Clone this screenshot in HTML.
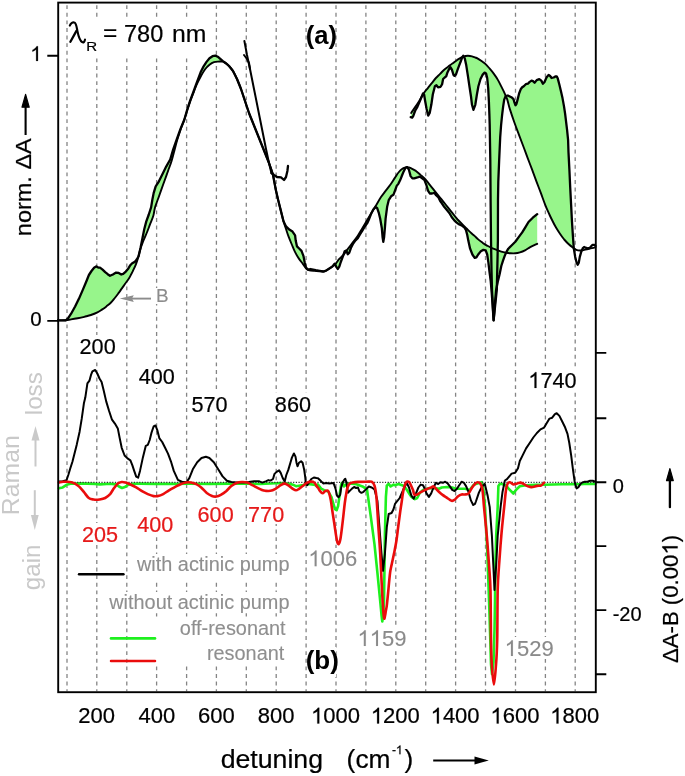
<!DOCTYPE html><html><head><meta charset="utf-8"><style>html,body{margin:0;padding:0;background:#fff;}svg{display:block;will-change:transform;filter:blur(0.35px);}text{font-family:"Liberation Sans",sans-serif;}</style></head><body>
<svg width="685" height="776" viewBox="0 0 685 776">
<rect width="685" height="776" fill="#fff"/>
<path d="M67 5.2 V691.2 M96.8 5.2 V691.2 M126.8 5.2 V691.2 M156.6 5.2 V691.2 M186.6 5.2 V691.2 M216.4 5.2 V691.2 M246.3 5.2 V691.2 M276.2 5.2 V691.2 M306.1 5.2 V691.2 M336 5.2 V691.2 M365.9 5.2 V691.2 M395.8 5.2 V691.2 M425.7 5.2 V691.2 M455.6 5.2 V691.2 M485.5 5.2 V691.2 M515.5 5.2 V691.2 M545.4 5.2 V691.2 M575.2 5.2 V691.2" stroke="#858585" stroke-width="1.3" stroke-dasharray="3.9 3.7" fill="none"/>
<rect x="68" y="20" width="139" height="36" fill="#fff"/>
<rect x="308" y="23" width="27" height="30" fill="#fff"/>
<rect x="77" y="335" width="42" height="26" fill="#fff"/>
<rect x="136" y="365" width="42" height="23" fill="#fff"/>
<rect x="189" y="392" width="42" height="23" fill="#fff"/>
<rect x="272" y="393" width="42" height="23" fill="#fff"/>
<rect x="527" y="370" width="52" height="21" fill="#fff"/>
<rect x="80" y="523" width="40" height="22" fill="#fff"/>
<rect x="135" y="514" width="41" height="22" fill="#fff"/>
<rect x="196" y="503" width="41" height="22" fill="#fff"/>
<rect x="249" y="502" width="38" height="22" fill="#fff"/>
<rect x="307" y="548" width="52" height="21" fill="#fff"/>
<rect x="134" y="554" width="159" height="25" fill="#fff"/>
<rect x="106" y="592" width="186" height="20" fill="#fff"/>
<rect x="150" y="616.5" width="143" height="49" fill="#fff"/>
<rect x="308" y="647" width="28" height="30" fill="#fff"/>
<rect x="355" y="628" width="53" height="21" fill="#fff"/>
<rect x="503" y="637" width="53" height="22" fill="#fff"/>
<rect x="152" y="288" width="19" height="16" fill="#fff"/>
<path d="M58 320.4 L65.9 320.3 L68.5 317.7 L71.1 313.7 L75.1 306.5 L79 298.6 L83 289.4 L86.3 281.5 L88.9 275 L91.5 271 L94.1 267.7 L96.1 266.4 L98.7 267.7 L100 267.7 L102.6 269.7 L105.2 272.2 L107.7 274.2 L110 275.8 L112.9 274.5 L116.1 272.6 L118.7 272.9 L121.3 274.5 L123.2 273.9 L125.8 271.6 L128.4 268.4 L130.3 265.2 L132.2 263.2 L134.8 261.9 L136.7 259.6 L138.5 256.5 L140.5 248 L142.4 238.5 L144.3 229 L146.3 221.4 L148.8 214.5 L151.1 207.4 L152.4 199.5 L153.7 192.9 L155.7 186.3 L158.3 182.4 L160.3 178.4 L162.9 173.2 L166.2 166.6 L170.2 159.5 L173.2 149.4 L176.9 139 L180.6 128.6 L184.3 119.7 L187.3 109.3 L190.2 100.4 L193.2 92.5 L196.2 84.1 L200.6 72.3 L203.6 66.3 L206.5 61.9 L209.5 58.2 L212.5 56.2 L215.4 55.6 L217.7 56.7 L220.6 59.2 L222.9 61.1 L225.8 63.2 L229 66 L233 71 L237 79 L241 89 L245 101 L249 113 L253 123 L257 133 L261 143 L265 153 L269 163 L273 175 L275.9 190.3 L278.3 200.6 L280.9 210.9 L283.5 221.3 L286 226.4 L289.3 229.6 L292.5 231.6 L295.1 235.4 L295.7 240.6 L297 246.4 L298.9 248.3 L301.5 250.9 L303.5 256.1 L304.7 262.5 L306 267.7 L308 269.6 L310.5 269 L313.1 269.6 L315.7 270.2 L319.6 270.9 L323.4 271.5 L325.4 270.9 L328.6 269 L332.5 266.4 L334.6 263.6 L336.2 266.6 L337.7 269 L339.3 266.6 L340.8 262 L343.1 255.8 L344.7 251.2 L346.2 250.4 L347.8 254.3 L349.3 252.7 L350.9 248.1 L353.2 243.5 L355.5 240.4 L357.8 238.1 L360.1 234.2 L362.5 230.3 L364.8 226.5 L367.1 223.4 L368.6 220.3 L371 214.1 L373.3 209.5 L375.6 207.1 L377.1 207.9 L378.7 212.6 L380.2 218.7 L381.8 228 L382.6 237.3 L383.3 241.9 L384.1 237.3 L384.9 228 L385.6 218.7 L387.2 206.4 L388.7 200.2 L391.1 196.3 L393.4 194.8 L394.9 190.9 L396.7 185.9 L398.5 183.6 L400.2 180.1 L402 175.5 L403.7 171.4 L405.4 168 L407.2 167.1 L408.9 169.7 L410.6 176.1 L412.4 178.4 L414.1 178.4 L415.9 177.8 L418.2 177.2 L419.9 176.7 L422.2 178.4 L424.5 180.1 L426.3 184.8 L428 190.6 L429.8 193.5 L432.1 193.5 L434.4 192.9 L436.1 195.2 L438.5 197.5 L440.2 201 L441.9 203.3 L444.2 206.8 L447.1 210.3 L449.5 213.2 L451.8 217.2 L454.1 220.1 L456.4 222.4 L458.7 224.2 L461.6 225.3 L464.5 227.6 L466 230.1 L467.2 234.8 L468.3 240.6 L470.1 248.7 L472.4 254.5 L474.7 257.9 L476.4 257.4 L478.2 254.5 L480.5 251.6 L483.4 249.8 L485.7 250.4 L487.2 254.5 L488.4 262.6 L489.5 271.8 L490.7 281.1 L491.5 289.9 L492.6 305 L493.6 320.3 L494.8 305 L496.1 289.9 L497.9 281.1 L499.6 274.2 L501.3 266 L503.1 260.3 L504.8 255.6 L506.6 251.6 L508.3 248.7 L511.8 245.2 L515.3 241.7 L518.7 237.1 L522.2 232.4 L525 227.8 L528.5 222 L532.8 217.7 L537.2 214.2 L537.2 243.8 L530.2 247.2 L525 250.3 L519.9 252.4 L515.3 253.3 L510.6 253.3 L506 252.7 L501.3 251.6 L496.7 249.8 L492.1 248.1 L487.4 245.8 L482.8 242.9 L478.2 239.4 L474.5 235.9 L470.5 232.4 L466.5 228.4 L462.2 224.2 L457.6 219.5 L452.9 213.7 L448.3 207.9 L443.7 202.1 L439 196.3 L434.4 190.6 L429.8 184.8 L425.1 179 L420.5 174.9 L415.9 170.9 L411.2 168.3 L407.7 167.1 L405.4 167.4 L402 169.1 L398.5 172.5 L395 177.6 L390.3 184.7 L385.6 190.9 L381 197.1 L376.4 204.8 L371.7 212.6 L367.1 220.3 L362.5 228 L357.8 235.7 L353.2 241.9 L348.5 248.1 L343.9 254.3 L339.3 258.9 L335.7 263.8 L332.5 266.4 L328.6 269 L324.7 271.3 L319.6 271.3 L314.4 270.9 L309.3 270.2 L306.7 269 L302.8 263.8 L298.9 258.6 L295.1 252.2 L291.8 244.5 L288.6 236.7 L286 229 L283.5 221.3 L280.9 210.9 L278.3 200.6 L275.9 190.3 L273 175 L269 163 L265 153 L261 143 L257 133 L253 123 L249 113 L245 101 L241 89 L237 79 L233 71 L229 66 L225.8 63.2 L222.9 61.6 L218.4 61.6 L214 62.2 L209.5 64.8 L205.1 69.3 L200.6 76.7 L196.2 85.6 L193.2 93.5 L190.2 101.4 L187.3 110.3 L184.3 119.7 L180.6 129.5 L176.9 141 L174.3 151 L171.5 161.3 L168.2 170.5 L164.9 179.7 L161.6 188.9 L158.3 198.2 L155 207.4 L153.4 215.5 L150.1 224.2 L146.9 232.5 L143.5 240.5 L140.7 248 L138.3 257 L136.1 263.9 L133.5 269.7 L130.9 274.8 L128.4 279.3 L125.1 283.8 L121.9 288.4 L118.7 292.9 L114.8 298 L111 302.5 L106.4 306.4 L101.9 309.6 L97.4 312.4 L90.9 315 L84.3 316.8 L77.7 318.3 L71.1 319.4 L65.9 320.3 L58 320.4 Z" fill="#97f58b" fill-rule="nonzero" stroke="none"/>
<path d="M410.7 117.2 L412.2 117.7 L413.2 116.1 L414.3 113 L415.3 110.5 L417.4 106.9 L420.5 99.6 L423 93.5 L424.1 94.5 L425.1 100.7 L426.6 108.9 L428.2 115.6 L429.7 113 L431.3 104.8 L432.8 94.5 L434.9 86.2 L436.4 85.2 L438 87.3 L440.6 86.8 L442.1 84.2 L443.1 79 L444.7 77.5 L446.2 76.4 L447.3 72.8 L448.8 69.7 L450.4 67.2 L451.9 69.7 L453.5 74.9 L454.5 75.9 L456 74.4 L457.6 69.7 L459.1 65.6 L460.7 61.5 L462.2 57.4 L463.2 55.8 L464.8 58.4 L466.3 65.6 L467.9 75.9 L469.4 86.2 L471 96.5 L472 104.8 L473.4 109.8 L475.3 104.8 L476.9 94.5 L478.4 86.2 L480.5 79 L482.5 74.9 L484.6 72.6 L486.1 73.4 L487.2 78 L488.2 88.3 L488.9 101.7 L489.4 115.1 L489.7 125 L490.3 160 L490.6 200 L491 240 L491.5 270 L492 290 L493.6 320.3 L496.8 290 L497.5 260 L497.9 240 L498 200 L498.3 181.6 L499.2 159.3 L500.2 137.1 L501.1 125 L502.1 115.1 L503.1 106.9 L504.2 99.6 L505.7 96 L507.8 95.5 L509.8 96.5 L511.9 97.6 L513.5 99.1 L514.5 102.7 L515.5 105.3 L516.5 103.8 L517.6 99.6 L519.1 93.5 L520.7 89.3 L522.2 87.3 L523.8 86.2 L525.8 84.2 L527.9 83.7 L529.4 82.1 L531.5 80.6 L533 81.1 L534.6 82.7 L536.7 80.1 L539.3 79.1 L541.3 80.6 L542.9 83.7 L544.4 82.2 L546.5 77.5 L548.6 74.9 L550.1 76 L551.6 78 L553.7 77.5 L555.3 76.5 L556.8 76.5 L557.8 78.6 L559.4 84.7 L560.9 90.9 L562.5 98.1 L564 106.4 L565.1 113.6 L566.1 121.9 L567.1 130.1 L568.1 140 L568.5 152.4 L569.4 169.8 L570.2 187.2 L571.1 204.6 L572 222 L572.9 235.9 L573.8 248.4 L574.3 248.3 L574.3 248.3 L573.4 248 L568.5 244 L564.2 239.5 L559.8 233.5 L556.3 228 L552.8 221.5 L549.4 214.5 L545.4 205.3 L541 193.4 L536.5 181.6 L532.1 169.7 L527.6 157.8 L523.2 146 L518.7 134.1 L514.3 122.2 L509.8 108.9 L507.3 99.6 L504.2 92.4 L501.1 86.2 L498 80.1 L493.9 73.9 L489.7 68.7 L485.6 64.1 L481.5 61 L477.4 58.4 L475 57.4 L472 56.3 L467.9 55.8 L463.8 56.3 L460.7 57.9 L456.5 60.5 L452.4 63.6 L448.3 66.6 L444.2 69.7 L440.1 73.9 L435.9 78 L431.8 83.1 L427.7 88.3 L423.6 93.5 L419.4 100.7 L415.3 106.9 L411.2 113 Z" fill="#97f58b" fill-rule="nonzero" stroke="none"/>
<path d="M58 320.4 C59.3 320.4 63.7 320.5 65.9 320.3 C68.1 320.1 69.1 319.7 71.1 319.4 C73.1 319.1 75.5 318.7 77.7 318.3 C79.9 317.9 82.1 317.4 84.3 316.8 C86.5 316.2 88.7 315.7 90.9 315 C93.1 314.3 95.6 313.3 97.4 312.4 C99.2 311.5 100.4 310.6 101.9 309.6 C103.4 308.6 104.9 307.6 106.4 306.4 C107.9 305.2 109.6 303.9 111 302.5 C112.4 301.1 113.5 299.6 114.8 298 C116.1 296.4 117.5 294.5 118.7 292.9 C119.9 291.3 120.8 289.9 121.9 288.4 C123 286.9 124 285.3 125.1 283.8 C126.2 282.3 127.4 280.8 128.4 279.3 C129.4 277.8 130.1 276.4 130.9 274.8 C131.8 273.2 132.6 271.5 133.5 269.7 C134.4 267.9 135.3 266 136.1 263.9 C136.9 261.8 137.5 259.6 138.3 257 C139.1 254.3 139.8 250.8 140.7 248 C141.6 245.2 142.5 243.1 143.5 240.5 C144.5 237.9 145.8 235.2 146.9 232.5 C148 229.8 149 227 150.1 224.2 C151.2 221.4 152.6 218.3 153.4 215.5 C154.2 212.7 154.2 210.3 155 207.4 C155.8 204.5 157.2 201.3 158.3 198.2 C159.4 195.1 160.5 192 161.6 188.9 C162.7 185.8 163.8 182.8 164.9 179.7 C166 176.6 167.1 173.6 168.2 170.5 C169.3 167.4 170.5 164.6 171.5 161.3 C172.5 158.1 173.4 154.4 174.3 151 C175.2 147.6 175.9 144.6 176.9 141 C177.9 137.4 179.4 133.1 180.6 129.5 C181.8 126 183.2 122.9 184.3 119.7 C185.4 116.5 186.3 113.3 187.3 110.3 C188.3 107.2 189.2 104.2 190.2 101.4 C191.2 98.6 192.2 96.1 193.2 93.5 C194.2 90.9 195 88.4 196.2 85.6 C197.4 82.8 199.1 79.4 200.6 76.7 C202.1 74 203.6 71.3 205.1 69.3 C206.6 67.3 208 66 209.5 64.8 C211 63.6 212.5 62.7 214 62.2 C215.5 61.7 216.9 61.7 218.4 61.6 C219.9 61.5 221.7 61.3 222.9 61.6 C224.1 61.9 224.8 62.5 225.8 63.2 C226.8 63.9 227.8 64.7 229 66 C230.2 67.3 231.7 68.8 233 71 C234.3 73.2 235.7 76 237 79 C238.3 82 239.7 85.3 241 89 C242.3 92.7 243.7 97 245 101 C246.3 105 247.7 109.3 249 113 C250.3 116.7 251.7 119.7 253 123 C254.3 126.3 255.7 129.7 257 133 C258.3 136.3 259.7 139.7 261 143 C262.3 146.3 263.7 149.7 265 153 C266.3 156.3 267.7 159.3 269 163 C270.3 166.7 271.9 170.4 273 175 C274.1 179.6 275 186 275.9 190.3 C276.8 194.6 277.5 197.2 278.3 200.6 C279.1 204 280 207.4 280.9 210.9 C281.8 214.4 282.6 218.3 283.5 221.3 C284.4 224.3 285.1 226.4 286 229 C286.9 231.6 287.6 234.1 288.6 236.7 C289.6 239.3 290.7 241.9 291.8 244.5 C292.9 247.1 293.9 249.8 295.1 252.2 C296.3 254.5 297.6 256.7 298.9 258.6 C300.2 260.5 301.5 262.1 302.8 263.8 C304.1 265.5 305.6 267.9 306.7 269 C307.8 270.1 308 269.9 309.3 270.2 C310.6 270.5 312.7 270.7 314.4 270.9 C316.1 271.1 317.9 271.2 319.6 271.3 C321.3 271.4 323.2 271.7 324.7 271.3 C326.2 270.9 327.3 269.8 328.6 269 C329.9 268.2 331.3 267.3 332.5 266.4 C333.7 265.5 334.6 265.1 335.7 263.8 C336.8 262.6 337.9 260.5 339.3 258.9 C340.7 257.3 342.4 256.1 343.9 254.3 C345.4 252.5 346.9 250.2 348.5 248.1 C350.1 246 351.6 244 353.2 241.9 C354.8 239.8 356.2 238 357.8 235.7 C359.4 233.4 360.9 230.6 362.5 228 C364.1 225.4 365.6 222.9 367.1 220.3 C368.6 217.7 370.1 215.2 371.7 212.6 C373.2 210 374.8 207.4 376.4 204.8 C377.9 202.2 379.5 199.4 381 197.1 C382.5 194.8 384.1 193 385.6 190.9 C387.2 188.8 388.7 186.9 390.3 184.7 C391.9 182.5 393.6 179.6 395 177.6 C396.4 175.6 397.3 173.9 398.5 172.5 C399.7 171.1 400.9 169.9 402 169.1 C403.1 168.2 404.4 167.7 405.4 167.4 C406.3 167.1 406.7 166.9 407.7 167.1 C408.7 167.2 409.8 167.7 411.2 168.3 C412.6 168.9 414.3 169.8 415.9 170.9 C417.4 172 419 173.6 420.5 174.9 C422 176.2 423.6 177.3 425.1 179 C426.7 180.7 428.2 182.9 429.8 184.8 C431.4 186.7 432.9 188.7 434.4 190.6 C435.9 192.5 437.4 194.4 439 196.3 C440.6 198.2 442.1 200.2 443.7 202.1 C445.2 204 446.8 206 448.3 207.9 C449.8 209.8 451.3 211.8 452.9 213.7 C454.4 215.6 456.1 217.8 457.6 219.5 C459.2 221.2 460.7 222.7 462.2 224.2 C463.7 225.7 465.1 227 466.5 228.4 C467.9 229.8 469.2 231.2 470.5 232.4 C471.8 233.7 473.2 234.7 474.5 235.9 C475.8 237.1 476.8 238.2 478.2 239.4 C479.6 240.6 481.3 241.8 482.8 242.9 C484.3 244 485.8 244.9 487.4 245.8 C488.9 246.7 490.6 247.4 492.1 248.1 C493.7 248.8 495.2 249.2 496.7 249.8 C498.2 250.4 499.8 251.1 501.3 251.6 C502.9 252.1 504.4 252.4 506 252.7 C507.6 253 509.1 253.2 510.6 253.3 C512.1 253.4 513.8 253.5 515.3 253.3 C516.8 253.2 518.3 252.9 519.9 252.4 C521.5 251.9 523.3 251.2 525 250.3 C526.7 249.4 528.2 248.3 530.2 247.2 C532.2 246.1 536 244.4 537.2 243.8" fill="none" stroke="#000" stroke-linejoin="round" stroke-linecap="round" stroke-width="1.9"/>
<path d="M411.2 113 C411.9 112 413.9 109 415.3 106.9 C416.7 104.9 418 102.9 419.4 100.7 C420.8 98.5 422.2 95.6 423.6 93.5 C425 91.4 426.3 90 427.7 88.3 C429.1 86.6 430.4 84.8 431.8 83.1 C433.2 81.4 434.5 79.5 435.9 78 C437.3 76.5 438.7 75.3 440.1 73.9 C441.5 72.5 442.8 70.9 444.2 69.7 C445.6 68.5 446.9 67.6 448.3 66.6 C449.7 65.6 451 64.6 452.4 63.6 C453.8 62.6 455.1 61.5 456.5 60.5 C457.9 59.5 459.5 58.6 460.7 57.9 C461.9 57.2 462.6 56.6 463.8 56.3 C465 55.9 466.5 55.8 467.9 55.8 C469.3 55.8 470.8 56 472 56.3 C473.2 56.6 474.1 57 475 57.4 C475.9 57.8 476.3 57.8 477.4 58.4 C478.5 59 480.1 60 481.5 61 C482.9 62 484.2 62.8 485.6 64.1 C487 65.4 488.3 67.1 489.7 68.7 C491.1 70.3 492.5 72 493.9 73.9 C495.3 75.8 496.8 78 498 80.1 C499.2 82.1 500.1 84.2 501.1 86.2 C502.1 88.2 503.2 90.2 504.2 92.4 C505.2 94.6 506.4 96.8 507.3 99.6 C508.2 102.3 508.6 105.1 509.8 108.9 C511 112.7 512.8 118 514.3 122.2 C515.8 126.4 517.2 130.1 518.7 134.1 C520.2 138.1 521.7 142.1 523.2 146 C524.7 149.9 526.1 153.9 527.6 157.8 C529.1 161.8 530.6 165.7 532.1 169.7 C533.6 173.7 535 177.6 536.5 181.6 C538 185.6 539.5 189.4 541 193.4 C542.5 197.4 544 201.8 545.4 205.3 C546.8 208.8 548.2 211.8 549.4 214.5 C550.6 217.2 551.6 219.2 552.8 221.5 C553.9 223.8 555.1 226 556.3 228 C557.5 230 558.5 231.6 559.8 233.5 C561.1 235.4 562.8 237.8 564.2 239.5 C565.7 241.2 567 242.6 568.5 244 C570 245.4 572.1 247 573.4 248 C574.7 249 575.2 249.4 576.3 249.8 C577.4 250.2 578.6 250.4 579.8 250.5 C581 250.6 582.2 250.3 583.4 250.1 C584.6 249.9 585.7 249.7 586.9 249.4 C588.1 249.1 589.1 248.8 590.5 248.4 C591.9 248.1 594.6 247.5 595.4 247.3" fill="none" stroke="#000" stroke-linejoin="round" stroke-linecap="round" stroke-width="1.9"/>
<path d="M58 320.4 L65.9 320.3 L68.5 317.7 L71.1 313.7 L75.1 306.5 L79 298.6 L83 289.4 L86.3 281.5 L88.9 275 L91.5 271 L94.1 267.7 L96.1 266.4 L98.7 267.7 L100 267.7 L102.6 269.7 L105.2 272.2 L107.7 274.2 L110 275.8 L112.9 274.5 L116.1 272.6 L118.7 272.9 L121.3 274.5 L123.2 273.9 L125.8 271.6 L128.4 268.4 L130.3 265.2 L132.2 263.2 L134.8 261.9 L136.7 259.6 L138.5 256.5 L140.5 248 L142.4 238.5 L144.3 229 L146.3 221.4 L148.8 214.5 L151.1 207.4 L152.4 199.5 L153.7 192.9 L155.7 186.3 L158.3 182.4 L160.3 178.4 L162.9 173.2 L166.2 166.6 L170.2 159.5 L173.2 149.4 L176.9 139 L180.6 128.6 L184.3 119.7 L187.3 109.3 L190.2 100.4 L193.2 92.5 L196.2 84.1 L200.6 72.3 L203.6 66.3 L206.5 61.9 L209.5 58.2 L212.5 56.2 L215.4 55.6 L217.7 56.7 L220.6 59.2 L222.9 61.1 L225.8 63.2 L229 66 L233 71 L237 79 L241 89 L245 101 L249 113 L253 123 L257 133 L261 143 L265 153 L269 163 L273 175 L275.9 190.3 L278.3 200.6 L280.9 210.9 L283.5 221.3 L286 226.4 L289.3 229.6 L292.5 231.6 L295.1 235.4 L295.7 240.6 L297 246.4 L298.9 248.3 L301.5 250.9 L303.5 256.1 L304.7 262.5 L306 267.7 L308 269.6 L310.5 269 L313.1 269.6 L315.7 270.2 L319.6 270.9 L323.4 271.5 L325.4 270.9 L328.6 269 L332.5 266.4 L334.6 263.6 L336.2 266.6 L337.7 269 L339.3 266.6 L340.8 262 L343.1 255.8 L344.7 251.2 L346.2 250.4 L347.8 254.3 L349.3 252.7 L350.9 248.1 L353.2 243.5 L355.5 240.4 L357.8 238.1 L360.1 234.2 L362.5 230.3 L364.8 226.5 L367.1 223.4 L368.6 220.3 L371 214.1 L373.3 209.5 L375.6 207.1 L377.1 207.9 L378.7 212.6 L380.2 218.7 L381.8 228 L382.6 237.3 L383.3 241.9 L384.1 237.3 L384.9 228 L385.6 218.7 L387.2 206.4 L388.7 200.2 L391.1 196.3 L393.4 194.8 L394.9 190.9 L396.7 185.9 L398.5 183.6 L400.2 180.1 L402 175.5 L403.7 171.4 L405.4 168 L407.2 167.1 L408.9 169.7 L410.6 176.1 L412.4 178.4 L414.1 178.4 L415.9 177.8 L418.2 177.2 L419.9 176.7 L422.2 178.4 L424.5 180.1 L426.3 184.8 L428 190.6 L429.8 193.5 L432.1 193.5 L434.4 192.9 L436.1 195.2 L438.5 197.5 L440.2 201 L441.9 203.3 L444.2 206.8 L447.1 210.3 L449.5 213.2 L451.8 217.2 L454.1 220.1 L456.4 222.4 L458.7 224.2 L461.6 225.3 L464.5 227.6 L466 230.1 L467.2 234.8 L468.3 240.6 L470.1 248.7 L472.4 254.5 L474.7 257.9 L476.4 257.4 L478.2 254.5 L480.5 251.6 L483.4 249.8 L485.7 250.4 L487.2 254.5 L488.4 262.6 L489.5 271.8 L490.7 281.1 L491.5 289.9 L492.6 305 L493.6 320.3 L494.8 305 L496.1 289.9 L497.9 281.1 L499.6 274.2 L501.3 266 L503.1 260.3 L504.8 255.6 L506.6 251.6 L508.3 248.7 L511.8 245.2 L515.3 241.7 L518.7 237.1 L522.2 232.4 L525 227.8 L528.5 222 L532.8 217.7 L537.2 214.2" fill="none" stroke="#000" stroke-linejoin="round" stroke-linecap="round" stroke-width="2.3"/>
<path d="M410.7 117.2 L412.2 117.7 L413.2 116.1 L414.3 113 L415.3 110.5 L417.4 106.9 L420.5 99.6 L423 93.5 L424.1 94.5 L425.1 100.7 L426.6 108.9 L428.2 115.6 L429.7 113 L431.3 104.8 L432.8 94.5 L434.9 86.2 L436.4 85.2 L438 87.3 L440.6 86.8 L442.1 84.2 L443.1 79 L444.7 77.5 L446.2 76.4 L447.3 72.8 L448.8 69.7 L450.4 67.2 L451.9 69.7 L453.5 74.9 L454.5 75.9 L456 74.4 L457.6 69.7 L459.1 65.6 L460.7 61.5 L462.2 57.4 L463.2 55.8 L464.8 58.4 L466.3 65.6 L467.9 75.9 L469.4 86.2 L471 96.5 L472 104.8 L473.4 109.8 L475.3 104.8 L476.9 94.5 L478.4 86.2 L480.5 79 L482.5 74.9 L484.6 72.6 L486.1 73.4 L487.2 78 L488.2 88.3 L488.9 101.7 L489.4 115.1 L489.7 125 L490.3 160 L490.6 200 L491 240 L491.5 270 L492 290 L493.6 320.3 L496.8 290 L497.5 260 L497.9 240 L498 200 L498.3 181.6 L499.2 159.3 L500.2 137.1 L501.1 125 L502.1 115.1 L503.1 106.9 L504.2 99.6 L505.7 96 L507.8 95.5 L509.8 96.5 L511.9 97.6 L513.5 99.1 L514.5 102.7 L515.5 105.3 L516.5 103.8 L517.6 99.6 L519.1 93.5 L520.7 89.3 L522.2 87.3 L523.8 86.2 L525.8 84.2 L527.9 83.7 L529.4 82.1 L531.5 80.6 L533 81.1 L534.6 82.7 L536.7 80.1 L539.3 79.1 L541.3 80.6 L542.9 83.7 L544.4 82.2 L546.5 77.5 L548.6 74.9 L550.1 76 L551.6 78 L553.7 77.5 L555.3 76.5 L556.8 76.5 L557.8 78.6 L559.4 84.7 L560.9 90.9 L562.5 98.1 L564 106.4 L565.1 113.6 L566.1 121.9 L567.1 130.1 L568.1 140 L568.5 152.4 L569.4 169.8 L570.2 187.2 L571.1 204.6 L572 222 L572.9 235.9 L573.8 248.4 L575.2 256.9 L576.6 262.6 L577.7 264.7 L578.8 262.6 L579.8 256.9 L581.2 251.9 L582.7 248.4 L584.1 247 L585.5 247.7 L587.6 248.4 L589.8 248 L591.2 246.2 L592.6 244.8 L594.4 244.8 L595.5 246" fill="none" stroke="#000" stroke-linejoin="round" stroke-linecap="round" stroke-width="2.3"/>
<path d="M244.4 41 L247 55 L250 69 L254 89 L258 109 L262 129 L266 149 L269 163 L271.4 173" fill="none" stroke="#000" stroke-linejoin="round" stroke-linecap="round" stroke-width="2.0"/>
<path d="M244 55 L247 59 L249 63 L250 69" fill="none" stroke="#000" stroke-linejoin="round" stroke-linecap="round" stroke-width="2.0"/>
<path d="M271.4 173 L274 175 L277 177 L281 177.4 L284 180 L286 177 L287.4 171 L288 166" fill="none" stroke="#000" stroke-linejoin="round" stroke-linecap="round" stroke-width="2.3"/>
<path d="M151 298.6 H131" stroke="#8c8c8c" stroke-width="1.9" fill="none"/>
<path d="M119.8 298.6 L133.8 295.2 L132 298.6 L133.8 302 Z" fill="#8c8c8c"/>
<path d="M58.9 488.3 L62.7 487.4 L66.6 484.8 L70.5 483.8 L80 483.4 L95 483.9 L100 484.4 L110 483.7 L116 484.4 L119 486.5 L122 488 L125 487 L128 484.9 L132 483.7 L140 483.6 L155 483.9 L170 483.9 L190 483.7 L210 483.9 L230 483.6 L250 483.5 L260.2 484 L270.4 483.5 L280.7 483 L288.8 483.5 L292.9 484.7 L296 486.2 L299 485.7 L303.1 485.1 L307.2 484 L312 484.4 L315.4 485.1 L317.1 486.4 L318 484.4 L321.1 488.6 L324.2 490.1 L328.3 491.6 L331.4 496.8 L333.5 504 L335 509.2 L336.6 510.2 L338.1 506.1 L339.1 498.9 L340.2 490.6 L341.2 484.4 L342.7 482.4 L343.9 486.4 L348 483.3 L356.3 484.3 L362.5 486.4 L367 489.4 L370.7 515.9 L374.5 544.3 L377.4 572.7 L380.2 601.1 L381.5 615 L382.3 621.5 L383.2 615 L384 601.1 L384.4 572.7 L384.9 534.8 L385.9 496.9 L386.8 485.6 L388.7 483.7 L390.6 486.5 L393.5 484.6 L395 485.2 L398.5 484 L402 485.2 L404.3 486.4 L407 490 L409.5 494 L411.4 496.9 L414.9 499.2 L417.2 498 L419.5 493.4 L423 490 L428 488.5 L434 488 L439.4 488.7 L441.7 487.5 L447 487 L452.2 487.5 L455.7 488.7 L460.4 488.7 L465.1 488.7 L469.7 489.9 L474 484.5 L481.8 482.2 L483.5 490 L485 507 L487.2 548.8 L489.3 608 L490.3 640 L491 664 L492 674 L493.5 662 L494.5 630 L495 601 L495.4 564.7 L496.2 535.8 L497.7 506.9 L498.4 486 L500 483.7 L501.1 483.7 L505.5 485.2 L509.8 489.8 L513.4 493.5 L516.1 489.8 L519.8 486.2 L526.1 485.3 L535.1 484.9 L544.1 484.7 L553.1 484.5 L562.1 484.3 L571 484.2 L580.2 484.1 L588 483.8 L595.3 483.9" fill="none" stroke="#1ef01e" stroke-width="2.6" stroke-linejoin="round" stroke-linecap="round"/>
<path d="M58.2 482.3 H595.8" stroke="#333" stroke-width="1.3" stroke-dasharray="1.2 1.5" fill="none"/>
<path d="M58.9 481.4 L62.7 481.2 L66.5 480.3 L68.3 475 L70.4 468 L72.5 461.5 L76.8 444.4 L79.6 431.7 L81.7 418.9 L83.9 403.3 L85.3 397.6 L87.4 383.4 L89.5 380.6 L91 374.9 L92.4 371.4 L95.2 370 L97.3 373.5 L99.5 378.5 L101.6 382 L103.7 390.5 L106.2 401.4 L109.1 411 L112 419.7 L114.9 423.6 L117.8 428.4 L119.7 438.1 L121.7 447.8 L124.6 455.5 L127.5 458.4 L130.4 460.3 L132.3 465.1 L134.2 470.9 L136.2 476.7 L138.1 477.7 L140 470.9 L142.9 457.4 L145.8 445.8 L147.8 444.9 L149.7 440 L151.6 432.3 L153.6 426.5 L155.5 425.5 L157.4 430.4 L159.3 438.1 L162.2 442 L165.1 447.8 L168 453.6 L170.9 461.3 L173.8 470.9 L177.9 479.9 L182.3 482 L186.6 482 L189.3 478.1 L192.8 469.3 L197.2 462.3 L201.5 458 L205.9 456.7 L209.4 458 L213.8 462.3 L218.2 469.3 L222.6 476.4 L226.9 480.7 L231.3 482 L236.6 482.5 L243.6 482.5 L248.8 482 L254.1 481.3 L259.3 481.3 L262.3 482.6 L266.3 481.1 L268.4 480.1 L270.4 480.6 L273 479 L274.5 473.9 L276.6 471.9 L279.1 470.4 L280.7 472.9 L282.7 478 L284.7 481.6 L286.3 475 L288.3 469.9 L290.4 462.7 L291.9 457.6 L293.9 453.5 L295.5 456.6 L296.5 462.7 L297.5 466.3 L299 462.7 L301.1 461.2 L302.6 462.7 L304.2 469.9 L305.2 477 L305.7 482.1 L307.2 485.2 L309.3 482.1 L311.3 479 L313.9 477.5 L316.4 478 L318 478.2 L320.1 480.3 L323.2 483.4 L326.2 482.9 L329.3 483.4 L333.5 482.9 L335.5 488.6 L337.1 495.8 L338.6 497.3 L340.2 494.7 L341.2 487.5 L342.7 482.4 L344.3 479.8 L345.3 478.8 L346.4 482.4 L347.9 492.7 L350 490.6 L352 488.6 L354.1 487 L356.1 488 L358 487.5 L359.4 491.5 L361.4 492.8 L363.5 491.8 L366 489.4 L368.8 486.5 L371.7 487.5 L374.5 489.4 L377.4 500.7 L379.3 525.3 L381.2 550 L383 570.8 L384.9 553.8 L386.8 527.2 L388.7 514 L391.6 513 L393.5 509.2 L395 503.9 L399.7 498 L404.3 487.5 L406.7 482.8 L409 487.5 L411.4 495.7 L413.7 498.6 L416 493.4 L418.4 487.5 L420.7 484.6 L423 485.2 L424.8 488.7 L426.5 493.4 L428.9 496.9 L431.2 493.4 L433.5 487.5 L435.9 482.8 L438.2 484 L440.5 482.3 L442.9 482.8 L445.2 481.7 L447.6 483.4 L449.9 486.4 L452.2 489.9 L454.6 491 L456.9 488.7 L459.2 485.2 L461.6 481.7 L463.9 482.8 L466.2 486.4 L468.6 492.2 L470.9 500.4 L473.2 505 L475 503.9 L475.9 501.5 L478.9 492.6 L481.8 486.7 L484.7 483.8 L487.5 495 L489.7 506.9 L491.9 535.8 L493.3 564.7 L494.5 590 L495.5 575 L496.2 564.7 L497.7 535.8 L500.6 506.9 L502.5 492 L504.9 480.5 L507 479.2 L511.6 473.6 L515.2 472.7 L518 468.2 L519.8 461 L522.5 455.6 L526.1 448.4 L529.7 443 L533.3 437.5 L536.9 433 L540.5 429.4 L544.1 427.6 L546.8 423.1 L549.5 418.6 L552.2 417.7 L554.9 414.1 L556.7 413.2 L559.4 415.9 L562.1 421.3 L564.8 426.7 L567.5 433.9 L569.3 443 L571.2 455.6 L573 470 L574.8 482.6 L576.6 488.4 L578.4 487.1 L580.2 484.4 L582 482.6 L584.7 481.7 L587.4 481.7 L590.1 480.8 L592.8 480.8 L595.3 481.8" fill="none" stroke="#000" stroke-linejoin="round" stroke-linecap="round" stroke-width="2.0"/>
<path d="M58.9 482.5 C59.6 482.4 61.6 481.9 63 481.8 C64.4 481.7 66.1 481.7 67.5 481.8 C68.9 481.9 70.3 482.1 71.5 482.3 C72.7 482.6 73.2 482.6 74.5 483.3 C75.8 484 77.6 485.1 79.2 486.6 C80.8 488.1 82.4 490.3 84 492.2 C85.6 494.1 87.2 496.8 88.8 498 C90.4 499.2 91.8 499.2 93.6 499.5 C95.4 499.8 97.5 499.8 99.4 499.5 C101.3 499.2 103.4 498.9 105.2 498 C107 497.1 108.6 495.7 110.1 494.1 C111.5 492.5 112.6 490.1 113.9 488.3 C115.2 486.5 116.5 484.6 117.8 483.5 C119.1 482.4 120.4 482.2 121.7 482 C123 481.8 124 482.1 125.5 482.5 C127 482.9 128.6 483.7 130.4 484.5 C132.2 485.3 134.3 486.3 136.2 487.4 C138.1 488.5 140.1 490.1 142 491.2 C143.9 492.3 145.9 493.3 147.8 494.1 C149.7 494.9 152 495.8 153.6 496.1 C155.2 496.4 155.8 496.4 157.4 496.1 C159 495.8 161.3 495.1 163.2 494.1 C165.1 493.1 167 491.5 169 490.3 C171 489.1 173.4 487.9 175.3 486.9 C177.2 485.9 178.8 484.9 180.5 484.2 C182.2 483.5 184.1 482.8 185.8 482.5 C187.6 482.2 189.2 482.2 191 482.5 C192.8 482.8 194.6 483.3 196.3 484.2 C198.1 485.1 199.8 486.2 201.5 487.7 C203.2 489.2 205.1 491.6 206.8 493 C208.6 494.4 210.4 495.4 212 496 C213.6 496.6 214.9 496.7 216.4 496.5 C217.9 496.3 219.2 495.7 220.8 494.8 C222.4 493.9 224.3 492.7 226.1 491.2 C227.8 489.7 229.6 487.4 231.3 486 C233.1 484.6 234.8 483.7 236.6 483 C238.3 482.3 240.1 482.1 241.8 482 C243.6 481.9 245.3 482 247.1 482.5 C248.8 483 250.6 484.2 252.3 485.1 C254.1 486 256 487.1 257.6 487.9 C259.2 488.7 260.7 489.5 262 490 C263.3 490.5 263.9 490.7 265.3 490.8 C266.7 490.9 268.7 491.1 270.4 490.8 C272.1 490.5 273.8 489.7 275.5 488.8 C277.2 487.9 279.2 486.1 280.7 485.2 C282.2 484.3 283.3 483.5 284.7 483.6 C286.1 483.7 287.4 484.8 288.8 485.7 C290.2 486.6 291.7 488 292.9 488.8 C294.1 489.6 295 490.3 296 490.3 C297 490.3 297.8 489.6 299 488.8 C300.2 488 301.7 486.7 303.1 485.7 C304.5 484.7 305.8 483.3 307.2 482.6 C308.6 481.9 310.1 481.6 311.3 481.6 C312.5 481.6 313.4 481.7 314.4 482.6 C315.4 483.5 316.8 486.4 317.4 487.2 C318 488 317.6 486.9 318 487.5 C318.4 488.1 319.3 490.2 320.1 491.1 C320.9 492.1 321.8 493.2 322.6 493.2 C323.5 493.2 324.3 491.5 325.2 491.1 C326.1 490.7 327.1 490.2 327.8 490.6 C328.5 491 328.8 492 329.3 493.7 C329.8 495.4 330.4 498 330.9 500.9 C331.4 503.8 331.9 507.8 332.4 511.2 C332.9 514.6 333.5 518 334 521.5 C334.5 525 335 528.6 335.5 531.9 C336 535.2 336.6 539 337.1 541.1 C337.6 543.2 338.1 544.4 338.6 544.2 C339.1 544 339.7 542.5 340.2 540.1 C340.7 537.7 341.2 533.8 341.7 529.8 C342.2 525.8 342.8 520.9 343.3 516.4 C343.8 511.9 344.3 506.9 344.8 503 C345.3 499.1 345.9 495.4 346.4 492.7 C346.9 489.9 347.3 488.1 347.9 486.5 C348.5 484.9 349.1 484.1 350 483.4 C350.9 482.7 351.8 482.6 353.1 482.4 C354.4 482.1 355.9 482 358 481.9 C360.1 481.8 363.7 481.8 366 481.8 C368.3 481.8 370.3 481.2 371.7 481.8 C373.1 482.4 373.7 483.1 374.5 485.6 C375.3 488.1 375.8 490.3 376.4 496.9 C377 503.5 377.7 515.8 378.3 525.3 C378.9 534.8 379.6 542.8 380.2 553.8 C380.8 564.8 381.6 582.2 382.1 591.6 C382.6 601 382.9 605.5 383.2 610 C383.5 614.5 383.9 617.7 384.2 618.5 C384.5 619.3 384.9 616.3 385.2 615 C385.5 613.7 385.6 612.3 385.9 610.6 C386.2 608.9 386.5 608.4 386.9 604.7 C387.3 601 388 594 388.5 588.6 C389 583.2 389.6 576.5 390.1 572.5 C390.6 568.5 391 567.6 391.7 564.4 C392.4 561.2 393.3 557.1 394.1 553.1 C394.9 549.1 395.8 544.8 396.5 540.3 C397.2 535.8 397.7 530.4 398.3 526 C398.9 521.6 399.4 517.7 399.9 514 C400.4 510.3 400.9 507 401.4 503.8 C401.9 500.6 402.3 497.2 402.7 494.6 C403.1 492 403.4 490.3 403.9 488.4 C404.4 486.5 404.9 484.5 405.5 483.4 C406.1 482.3 406.7 481.8 407.3 481.6 C407.9 481.4 408.6 481.6 409.2 482.2 C409.8 482.8 410.4 484.2 411 485.5 C411.6 486.8 412.4 488.5 413 490 C413.6 491.5 413.6 493.8 414.3 494.5 C415 495.2 416.1 494.9 417.2 494.5 C418.3 494.1 419.5 492.9 420.7 492.2 C421.9 491.5 423 491 424.2 490.4 C425.4 489.8 426.5 489.2 427.7 488.7 C428.9 488.2 430.2 487.9 431.2 487.5 C432.2 487.1 432.7 486.2 433.5 486.4 C434.3 486.6 434.9 487.7 435.9 488.7 C436.9 489.7 438.2 491.1 439.4 492.2 C440.6 493.3 441.7 494.2 442.9 495.1 C444.1 496 445.2 496.6 446.4 497.4 C447.6 498.2 448.9 499.2 449.9 499.8 C450.9 500.4 451.4 500.9 452.2 500.9 C453 500.9 453.6 500.6 454.6 499.8 C455.6 499 456.9 497.2 458.1 496.3 C459.3 495.4 460.4 494.8 461.6 494.5 C462.8 494.2 463.9 494.7 465.1 494.5 C466.3 494.3 467.4 494.6 468.6 493.4 C469.8 492.2 471 489.1 472.1 487.5 C473.2 485.9 474.1 484.9 475 484 C475.9 483.1 476.5 482.2 477.4 482.2 C478.3 482.1 479.5 482.4 480.4 483.7 C481.2 485 481.9 486.1 482.5 490 C483.1 493.9 483.3 499.3 484 506.9 C484.7 514.5 486 526.2 486.8 535.8 C487.6 545.4 488.4 555.7 489 564.7 C489.6 573.7 490.2 577.5 490.5 590 C490.8 602.5 490.8 627.5 491 640 C491.2 652.5 491.3 657.6 491.8 665 C492.3 672.4 493.2 684.5 493.9 684.5 C494.6 684.5 495.4 672.4 496 665 C496.6 657.6 496.9 652.5 497.2 640 C497.5 627.5 497.4 602.5 497.7 590 C498 577.5 498.5 573.7 499.1 564.7 C499.7 555.7 500.5 545.4 501.3 535.8 C502.1 526.2 503.4 514.5 504.2 506.9 C505 499.3 505.4 493.9 506 490 C506.6 486.1 506.8 485.1 507.5 483.8 C508.2 482.5 509 482.1 510 482.2 C511 482.3 512.2 484.2 513.4 484.4 C514.6 484.6 515.9 483.8 517.1 483.5 C518.3 483.2 519.5 482.5 520.7 482.6 C521.9 482.8 523.1 483.8 524.3 484.4 C525.5 485 526.7 485.8 527.9 486.2 C529.1 486.6 530 487.2 531.5 487.1 C533 487.1 535.2 486.2 536.9 485.9 C538.5 485.6 540.2 485.9 541.4 485.3 C542.6 484.8 543.6 483.1 544.1 482.6" fill="none" stroke="#ea0c0c" stroke-width="2.6" stroke-linejoin="round" stroke-linecap="round"/>
<path d="M79 574.3 H123.5" stroke="#000" stroke-width="2.4" stroke-linecap="round"/>
<path d="M111 638.4 H155" stroke="#1ef01e" stroke-width="2.6" stroke-linecap="round"/>
<path d="M111 660.9 H155" stroke="#ea0c0c" stroke-width="2.5" stroke-linecap="round"/>
<rect x="58.2" y="2.6" width="537.6" height="689.6" fill="none" stroke="#000" stroke-width="1.9"/>
<path d="M47.3 55.8 H58 M47.3 320.9 H58" stroke="#000" stroke-width="1.9"/>
<path d="M595.8 352.9 H606.3 M595.8 418.2 H606.3 M595.8 482.3 H606.3 M595.8 546.1 H606.3 M595.8 610.1 H606.3 M595.8 674.2 H606.3" stroke="#000" stroke-width="1.9"/>
<g transform="translate(30.30 60.90) scale(1.000 1)" fill="#000" stroke="#000" stroke-width="0.22" stroke-linejoin="round"><path transform="translate(0.00 0) scale(20.500)" stroke-width="0.0107" d="M0.373 0 L0.285 0 L0.285 -0.56 C0.264 -0.54 0.236 -0.52 0.2 -0.5 C0.165 -0.479 0.134 -0.463 0.106 -0.452 L0.106 -0.537 C0.154 -0.56 0.197 -0.587 0.233 -0.62 C0.27 -0.652 0.296 -0.684 0.311 -0.716 L0.373 -0.716 Z"/></g>
<text transform="translate(30.26 326.10) scale(1.000 1)" font-size="20.50" fill="#000" font-weight="normal" stroke="#000" stroke-width="0.22" stroke-linejoin="round">0</text>
<path d="M69.8 25.6 C70.8 23 72.8 21.8 74.6 22.6 C76.4 23.6 76.6 27 77.4 31 C78.4 36 79.6 40.5 82.2 42.2 C83.6 43 84.6 41.5 85 39.6" fill="none" stroke="#000" stroke-width="2.1" stroke-linecap="round"/>
<path d="M76.6 30.6 L70.4 41.8" fill="none" stroke="#000" stroke-width="2.3" stroke-linecap="round"/>
<text transform="translate(86.19 51.40) scale(1.210 1)" font-size="12.46" fill="#000" font-weight="normal" stroke="#000" stroke-width="0.22" stroke-linejoin="round">R</text>
<text transform="translate(103.02 40.66) scale(1.000 1)" font-size="24.50" fill="#000" font-weight="normal" stroke="#000" stroke-width="0.22" stroke-linejoin="round">=</text>
<text transform="translate(124.02 41.95) scale(0.961 1)" font-size="24.51" fill="#000" font-weight="normal" stroke="#000" stroke-width="0.22" stroke-linejoin="round">780</text>
<text transform="translate(171.97 41.80) scale(1.053 1)" font-size="23.52" fill="#000" font-weight="normal" stroke="#000" stroke-width="0.22" stroke-linejoin="round">nm</text>
<text transform="translate(305.72 43.79) scale(1.014 1)" font-size="25.27" fill="#000" font-weight="bold" stroke="#000" stroke-width="0.00" stroke-linejoin="round">(a)</text>
<text transform="translate(156.09 301.90) scale(1.043 1)" font-size="18.12" fill="#8c8c8c" font-weight="normal" stroke="#8c8c8c" stroke-width="0.12" stroke-linejoin="round">B</text>
<text transform="translate(79.55 353.68) scale(0.985 1)" font-size="22.00" fill="#000" font-weight="normal" stroke="#000" stroke-width="0.22" stroke-linejoin="round">200</text>
<text transform="translate(138.77 383.78) scale(0.985 1)" font-size="22.00" fill="#000" font-weight="normal" stroke="#000" stroke-width="0.22" stroke-linejoin="round">400</text>
<text transform="translate(191.51 411.58) scale(0.985 1)" font-size="22.00" fill="#000" font-weight="normal" stroke="#000" stroke-width="0.22" stroke-linejoin="round">570</text>
<text transform="translate(274.86 412.08) scale(0.985 1)" font-size="22.00" fill="#000" font-weight="normal" stroke="#000" stroke-width="0.22" stroke-linejoin="round">860</text>
<g transform="translate(528.35 387.88) scale(0.985 1)" fill="#000" stroke="#000" stroke-width="0.22" stroke-linejoin="round"><path transform="translate(0.00 0) scale(22.000)" stroke-width="0.0100" d="M0.373 0 L0.285 0 L0.285 -0.56 C0.264 -0.54 0.236 -0.52 0.2 -0.5 C0.165 -0.479 0.134 -0.463 0.106 -0.452 L0.106 -0.537 C0.154 -0.56 0.197 -0.587 0.233 -0.62 C0.27 -0.652 0.296 -0.684 0.311 -0.716 L0.373 -0.716 Z"/><text x="12.23" y="0" font-size="22.00">740</text></g>
<text transform="translate(81.91 541.68) scale(1.000 1)" font-size="21.60" fill="#e61a1a" font-weight="normal" stroke="#e61a1a" stroke-width="0.22" stroke-linejoin="round">205</text>
<text transform="translate(137.18 532.18) scale(1.000 1)" font-size="21.60" fill="#e61a1a" font-weight="normal" stroke="#e61a1a" stroke-width="0.22" stroke-linejoin="round">400</text>
<text transform="translate(197.61 522.08) scale(1.000 1)" font-size="21.60" fill="#e61a1a" font-weight="normal" stroke="#e61a1a" stroke-width="0.22" stroke-linejoin="round">600</text>
<text transform="translate(248.11 521.78) scale(1.000 1)" font-size="21.60" fill="#e61a1a" font-weight="normal" stroke="#e61a1a" stroke-width="0.22" stroke-linejoin="round">770</text>
<g transform="translate(308.39 566.18) scale(1.000 1)" fill="#8a8a8a" stroke="#8a8a8a" stroke-width="0.12" stroke-linejoin="round"><path transform="translate(0.00 0) scale(22.000)" stroke-width="0.0055" d="M0.373 0 L0.285 0 L0.285 -0.56 C0.264 -0.54 0.236 -0.52 0.2 -0.5 C0.165 -0.479 0.134 -0.463 0.106 -0.452 L0.106 -0.537 C0.154 -0.56 0.197 -0.587 0.233 -0.62 C0.27 -0.652 0.296 -0.684 0.311 -0.716 L0.373 -0.716 Z"/><text x="12.23" y="0" font-size="22.00">006</text></g>
<g transform="translate(357.57 645.88) scale(1.000 1)" fill="#8a8a8a" stroke="#8a8a8a" stroke-width="0.12" stroke-linejoin="round"><path transform="translate(0.00 0) scale(22.000)" stroke-width="0.0055" d="M0.373 0 L0.285 0 L0.285 -0.56 C0.264 -0.54 0.236 -0.52 0.2 -0.5 C0.165 -0.479 0.134 -0.463 0.106 -0.452 L0.106 -0.537 C0.154 -0.56 0.197 -0.587 0.233 -0.62 C0.27 -0.652 0.296 -0.684 0.311 -0.716 L0.373 -0.716 Z"/><path transform="translate(12.23 0) scale(22.000)" stroke-width="0.0055" d="M0.373 0 L0.285 0 L0.285 -0.56 C0.264 -0.54 0.236 -0.52 0.2 -0.5 C0.165 -0.479 0.134 -0.463 0.106 -0.452 L0.106 -0.537 C0.154 -0.56 0.197 -0.587 0.233 -0.62 C0.27 -0.652 0.296 -0.684 0.311 -0.716 L0.373 -0.716 Z"/><text x="24.46" y="0" font-size="22.00">59</text></g>
<g transform="translate(504.69 655.88) scale(1.000 1)" fill="#8a8a8a" stroke="#8a8a8a" stroke-width="0.12" stroke-linejoin="round"><path transform="translate(0.00 0) scale(22.000)" stroke-width="0.0055" d="M0.373 0 L0.285 0 L0.285 -0.56 C0.264 -0.54 0.236 -0.52 0.2 -0.5 C0.165 -0.479 0.134 -0.463 0.106 -0.452 L0.106 -0.537 C0.154 -0.56 0.197 -0.587 0.233 -0.62 C0.27 -0.652 0.296 -0.684 0.311 -0.716 L0.373 -0.716 Z"/><text x="12.23" y="0" font-size="22.00">529</text></g>
<text transform="translate(136.93 570.62) scale(1.000 1)" font-size="19.90" fill="#8f8f8f" font-weight="normal" stroke="#8f8f8f" stroke-width="0.12" stroke-linejoin="round">with actinic pump</text>
<text transform="translate(109.25 608.82) scale(1.000 1)" font-size="19.90" fill="#8f8f8f" font-weight="normal" stroke="#8f8f8f" stroke-width="0.12" stroke-linejoin="round">without actinic pump</text>
<text transform="translate(179.82 634.80) scale(1.000 1)" font-size="19.90" fill="#8f8f8f" font-weight="normal" stroke="#8f8f8f" stroke-width="0.12" stroke-linejoin="round">off-resonant</text>
<text transform="translate(206.90 659.60) scale(1.000 1)" font-size="19.90" fill="#8f8f8f" font-weight="normal" stroke="#8f8f8f" stroke-width="0.12" stroke-linejoin="round">resonant</text>
<text transform="translate(305.70 669.17) scale(1.024 1)" font-size="25.38" fill="#000" font-weight="bold" stroke="#000" stroke-width="0.00" stroke-linejoin="round">(b)</text>
<text transform="translate(612.65 493.10) scale(1.000 1)" font-size="20.00" fill="#000" font-weight="normal" stroke="#000" stroke-width="0.22" stroke-linejoin="round">0</text>
<text transform="translate(612.65 620.60) scale(1.000 1)" font-size="20.00" fill="#000" font-weight="normal" stroke="#000" stroke-width="0.22" stroke-linejoin="round">-20</text>
<text transform="translate(78.35 723.48) scale(1.002 1)" font-size="21.97" fill="#000" font-weight="normal" stroke="#000" stroke-width="0.22" stroke-linejoin="round">200</text>
<text transform="translate(138.48 723.48) scale(1.002 1)" font-size="21.97" fill="#000" font-weight="normal" stroke="#000" stroke-width="0.22" stroke-linejoin="round">400</text>
<text transform="translate(197.95 723.48) scale(1.002 1)" font-size="21.97" fill="#000" font-weight="normal" stroke="#000" stroke-width="0.22" stroke-linejoin="round">600</text>
<text transform="translate(257.86 723.48) scale(1.002 1)" font-size="21.97" fill="#000" font-weight="normal" stroke="#000" stroke-width="0.22" stroke-linejoin="round">800</text>
<g transform="translate(311.05 723.48) scale(1.002 1)" fill="#000" stroke="#000" stroke-width="0.22" stroke-linejoin="round"><path transform="translate(0.00 0) scale(21.972)" stroke-width="0.0100" d="M0.373 0 L0.285 0 L0.285 -0.56 C0.264 -0.54 0.236 -0.52 0.2 -0.5 C0.165 -0.479 0.134 -0.463 0.106 -0.452 L0.106 -0.537 C0.154 -0.56 0.197 -0.587 0.233 -0.62 C0.27 -0.652 0.296 -0.684 0.311 -0.716 L0.373 -0.716 Z"/><text x="12.22" y="0" font-size="21.97">000</text></g>
<g transform="translate(370.85 723.48) scale(1.002 1)" fill="#000" stroke="#000" stroke-width="0.22" stroke-linejoin="round"><path transform="translate(0.00 0) scale(21.972)" stroke-width="0.0100" d="M0.373 0 L0.285 0 L0.285 -0.56 C0.264 -0.54 0.236 -0.52 0.2 -0.5 C0.165 -0.479 0.134 -0.463 0.106 -0.452 L0.106 -0.537 C0.154 -0.56 0.197 -0.587 0.233 -0.62 C0.27 -0.652 0.296 -0.684 0.311 -0.716 L0.373 -0.716 Z"/><text x="12.22" y="0" font-size="21.97">200</text></g>
<g transform="translate(430.65 723.48) scale(1.002 1)" fill="#000" stroke="#000" stroke-width="0.22" stroke-linejoin="round"><path transform="translate(0.00 0) scale(21.972)" stroke-width="0.0100" d="M0.373 0 L0.285 0 L0.285 -0.56 C0.264 -0.54 0.236 -0.52 0.2 -0.5 C0.165 -0.479 0.134 -0.463 0.106 -0.452 L0.106 -0.537 C0.154 -0.56 0.197 -0.587 0.233 -0.62 C0.27 -0.652 0.296 -0.684 0.311 -0.716 L0.373 -0.716 Z"/><text x="12.22" y="0" font-size="21.97">400</text></g>
<g transform="translate(490.45 723.48) scale(1.002 1)" fill="#000" stroke="#000" stroke-width="0.22" stroke-linejoin="round"><path transform="translate(0.00 0) scale(21.972)" stroke-width="0.0100" d="M0.373 0 L0.285 0 L0.285 -0.56 C0.264 -0.54 0.236 -0.52 0.2 -0.5 C0.165 -0.479 0.134 -0.463 0.106 -0.452 L0.106 -0.537 C0.154 -0.56 0.197 -0.587 0.233 -0.62 C0.27 -0.652 0.296 -0.684 0.311 -0.716 L0.373 -0.716 Z"/><text x="12.22" y="0" font-size="21.97">600</text></g>
<g transform="translate(550.25 723.48) scale(1.002 1)" fill="#000" stroke="#000" stroke-width="0.22" stroke-linejoin="round"><path transform="translate(0.00 0) scale(21.972)" stroke-width="0.0100" d="M0.373 0 L0.285 0 L0.285 -0.56 C0.264 -0.54 0.236 -0.52 0.2 -0.5 C0.165 -0.479 0.134 -0.463 0.106 -0.452 L0.106 -0.537 C0.154 -0.56 0.197 -0.587 0.233 -0.62 C0.27 -0.652 0.296 -0.684 0.311 -0.716 L0.373 -0.716 Z"/><text x="12.22" y="0" font-size="21.97">800</text></g>
<text transform="translate(220.64 767.70) scale(1.000 1)" font-size="26.70" fill="#000" font-weight="normal" stroke="#000" stroke-width="0.22" stroke-linejoin="round">detuning</text>
<text transform="translate(346.62 767.70) scale(1.000 1)" font-size="26.30" fill="#000" font-weight="normal" stroke="#000" stroke-width="0.22" stroke-linejoin="round">(cm</text>
<g transform="translate(391.91 754.20) scale(0.984 1)" fill="#000" stroke="#000" stroke-width="0.22" stroke-linejoin="round"><text x="0.00" y="0" font-size="12.32">-</text><path transform="translate(4.10 0) scale(12.319)" stroke-width="0.0179" d="M0.373 0 L0.285 0 L0.285 -0.56 C0.264 -0.54 0.236 -0.52 0.2 -0.5 C0.165 -0.479 0.134 -0.463 0.106 -0.452 L0.106 -0.537 C0.154 -0.56 0.197 -0.587 0.233 -0.62 C0.27 -0.652 0.296 -0.684 0.311 -0.716 L0.373 -0.716 Z"/></g>
<text transform="translate(404.57 767.70) scale(1.000 1)" font-size="26.30" fill="#000" font-weight="normal" stroke="#000" stroke-width="0.22" stroke-linejoin="round">)</text>
<path d="M433.2 760.5 H478" stroke="#000" stroke-width="2"/>
<path d="M488.8 760.5 L474.5 756.6 L474.5 764.4 Z" fill="#000"/>
<text transform="translate(31.08 236.14) rotate(-90) scale(1.061 1)" font-size="22.14" fill="#000" font-weight="normal" stroke="#000" stroke-width="0.22" stroke-linejoin="round">norm. &#916;A</text>
<path d="M25.6 135 V105" stroke="#000" stroke-width="2.1"/>
<path d="M25.6 94.4 L22 107.2 L29.2 107.2 Z" fill="#000" stroke="#000" stroke-width="1.2" stroke-linejoin="round"/>
<text transform="translate(19.16 515.18) rotate(-90) scale(1.027 1)" font-size="24.14" fill="#c9c9c9" font-weight="normal" stroke="#c9c9c9" stroke-width="0.00" stroke-linejoin="round">Raman</text>
<text transform="translate(41.57 415.19) rotate(-90) scale(1.036 1)" font-size="23.29" fill="#c9c9c9" font-weight="normal" stroke="#c9c9c9" stroke-width="0.00" stroke-linejoin="round">loss</text>
<text transform="translate(39.92 590.17) rotate(-90) scale(1.000 1)" font-size="24.19" fill="#c9c9c9" font-weight="normal" stroke="#c9c9c9" stroke-width="0.00" stroke-linejoin="round">gain</text>
<path d="M35.5 466.5 V438" stroke="#c9c9c9" stroke-width="2"/>
<path d="M35.5 426 L31.5 440.5 L39.5 440.5 Z" fill="#c9c9c9"/>
<path d="M34.8 490.2 V516" stroke="#c9c9c9" stroke-width="2"/>
<path d="M34.8 530 L30.9 515 L38.7 515 Z" fill="#c9c9c9"/>
<g transform="translate(677.61 663.06) rotate(-90) scale(1.036 1)" fill="#000" stroke="#000" stroke-width="0.22" stroke-linejoin="round"><text x="0.00" y="0" font-size="21.40">&#916;A-B (0.00</text><path transform="translate(104.68 0) scale(21.398)" stroke-width="0.0103" d="M0.373 0 L0.285 0 L0.285 -0.56 C0.264 -0.54 0.236 -0.52 0.2 -0.5 C0.165 -0.479 0.134 -0.463 0.106 -0.452 L0.106 -0.537 C0.154 -0.56 0.197 -0.587 0.233 -0.62 C0.27 -0.652 0.296 -0.684 0.311 -0.716 L0.373 -0.716 Z"/><text x="116.58" y="0" font-size="21.40">)</text></g>
<path d="M669.9 507.2 V480" stroke="#000" stroke-width="2.3" stroke-linecap="round"/>
<path d="M669.9 468.6 L666.5 480.6 L673.3 480.6 Z" fill="#000" stroke="#000" stroke-width="1.2" stroke-linejoin="round"/>
</svg></body></html>
